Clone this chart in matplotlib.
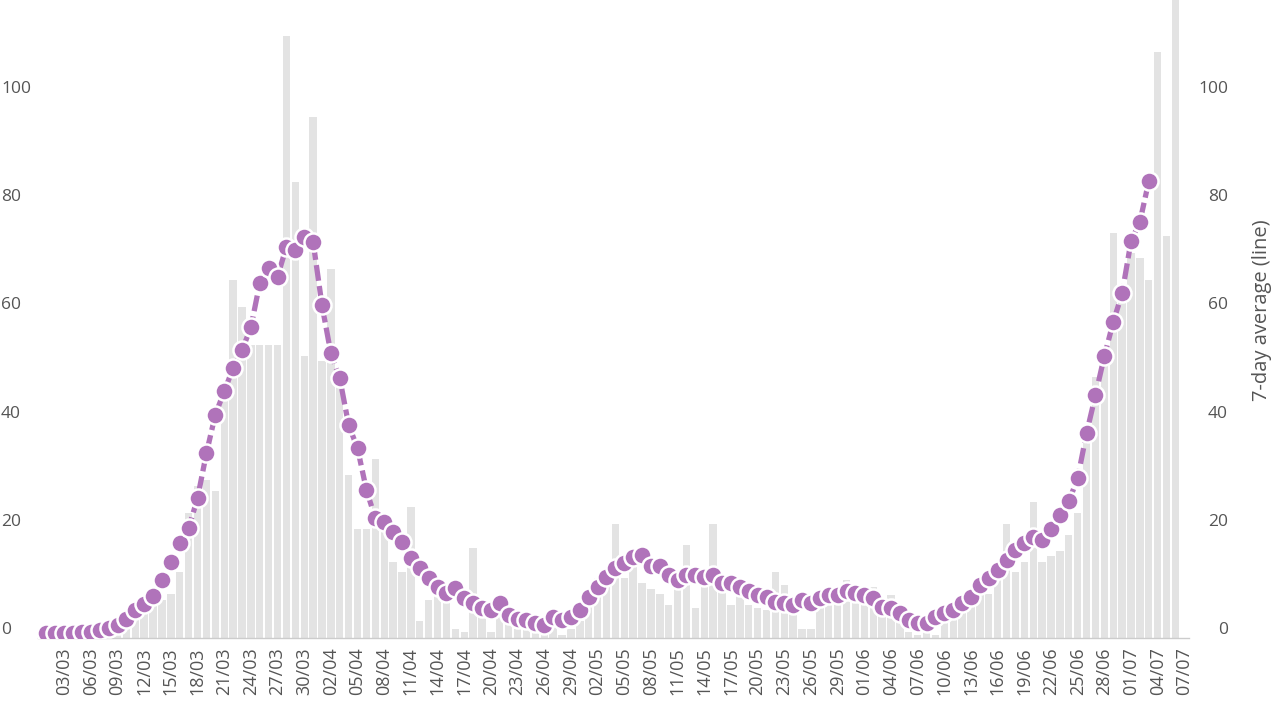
import numpy as np
import pandas as pd
import matplotlib
matplotlib.use("Agg")
import matplotlib.pyplot as plt
from matplotlib.transforms import ScaledTranslation

# daily values (bars), one per day from 01/03 to 06/07
daily = [0, 0, 0, 0, 0, 0.5, 1, 1, 2, 3,
         4, 5, 6, 7, 8, 12, 23, 28, 29, 27,
         45, 66, 61, 54, 54, 54, 54, 111, 84, 52,
         96, 51, 68, 48, 30, 20, 20, 33, 21, 14,
         12, 24, 3, 7, 10, 8, 1.5, 1, 16.5, 7,
         1, 4, 2.5, 1.5, 2, 1, 1.5, 2, 0.5, 1.5,
         3, 8, 11, 12, 21, 11, 13, 10, 9, 8,
         6, 12, 17, 5.5, 10, 21, 9.5, 6, 8, 6,
         5.5, 5, 12, 9.7, 4.5, 1.5, 1.5, 6, 8, 7,
         10.6, 8, 6, 9.3, 5, 7.8, 4, 1, 0.5, 1,
         0.5, 3, 4, 5, 7, 8, 8, 12, 21, 12,
         14, 25, 14, 15, 16, 19, 23, 38, 48, 52,
         74.6, 64, 71, 70, 66, 108, 74, 135]

# 7-day average (line), one per day from 01/03 to 03/07
avg7 = [0.8, 0.8, 0.8, 0.9, 1.0, 1.1, 1.4, 1.7, 2.3, 3.5,
        5.1, 6.2, 7.7, 10.6, 14.0, 17.4, 20.2, 25.7, 34.0, 41.1,
        45.4, 49.7, 53.0, 57.2, 65.4, 68.1, 66.6, 72.1, 71.5, 73.9,
        73.0, 61.3, 52.4, 47.8, 39.2, 34.9, 27.2, 22.0, 21.4, 19.5,
        17.7, 14.6, 12.8, 10.9, 9.4, 8.2, 9.1, 7.2, 6.3, 5.4,
        5.1, 6.3, 4.2, 3.5, 3.2, 2.6, 2.3, 3.8, 3.2, 3.8,
        5.1, 7.5, 9.4, 11.2, 12.8, 13.7, 14.9, 15.2, 13.1, 13.1,
        11.5, 10.6, 11.5, 11.5, 11.2, 11.5, 10.0, 10.0, 9.4, 8.5,
        7.8, 7.5, 6.6, 6.3, 6.0, 6.9, 6.3, 7.2, 7.8, 7.8,
        8.5, 8.2, 7.8, 7.2, 5.7, 5.4, 4.5, 3.2, 2.6, 2.6,
        3.8, 4.5, 5.1, 6.3, 7.5, 9.7, 10.9, 12.5, 14.3, 16.1,
        17.4, 18.6, 18.0, 20.1, 22.6, 25.1, 29.4, 37.7, 44.7, 51.9,
        58.2, 63.5, 73.1, 76.7, 84.2]

y_ticks = [0, 20, 40, 60, 80, 100]
right_title = "7-day average (line)"

days = pd.date_range("2020-03-01", periods=len(daily), freq="D")
line_days = days[:len(avg7)]
tick_days = pd.date_range("2020-03-03", "2020-07-07", freq="3D")
tick_labels = [d.strftime("%d/%m") for d in tick_days]

purple = "#b073ba"
bar_grey = "#e3e3e3"
text_grey = "#555555"

plt.rcParams["font.family"] = ["Open Sans", "DejaVu Sans"]

W, H = 1280, 721
fig = plt.figure(figsize=(W / 100, H / 100), dpi=100)
x0, x1, y0 = 37.5, 1188.8, 637.5
ax = fig.add_axes([x0 / W, 1 - y0 / H, (x1 - x0) / W, y0 / H])

ax.bar(days, daily, width=0.83, color=bar_grey, zorder=1)
ax.plot(line_days, avg7, color=purple, lw=3.8, dashes=(3, 1),
        marker="o", ms=13, mfc=purple, mec="white", mew=1.8, zorder=3)

ax.set_xlim(days[0] - pd.Timedelta(days=1), pd.Timestamp("2020-07-07 12:00"))
ax.set_ylim(0, y0 / 5.42)

for s in ["top", "left", "right"]:
    ax.spines[s].set_visible(False)
ax.spines["bottom"].set_color("#cccccc")
ax.spines["bottom"].set_linewidth(1)

ax.set_xticks(tick_days)
ax.set_xticklabels(tick_labels, rotation=90, fontsize=13, color=text_grey)
ax.tick_params(axis="x", length=0, pad=7)

up = ScaledTranslation(0, 0.09, fig.dpi_scale_trans)

ax.set_yticks(y_ticks)
ax.set_yticklabels([str(v) for v in y_ticks], fontsize=12.5, color=text_grey)
ax.tick_params(axis="y", length=0, pad=(x0 - 1) * 0.72)
for lbl in ax.get_yticklabels():
    lbl.set_ha("left")
    lbl.set_transform(lbl.get_transform() + up)

ax2 = ax.twinx()
ax2.set_ylim(ax.get_ylim())
for s in ["top", "left", "right", "bottom"]:
    ax2.spines[s].set_visible(False)
ax2.set_yticks(y_ticks)
ax2.set_yticklabels([str(v) for v in y_ticks], fontsize=12.5, color=text_grey)
ax2.tick_params(axis="y", length=0, pad=(1228 - x1) * 0.72)
for lbl in ax2.get_yticklabels():
    lbl.set_ha("right")
    lbl.set_transform(lbl.get_transform() + up)

fig.text(1262 / W, 1 - 310 / H, right_title, rotation=90, ha="center",
         va="center", fontsize=14.5, color=text_grey)

fig.savefig("out.png", dpi=100)
